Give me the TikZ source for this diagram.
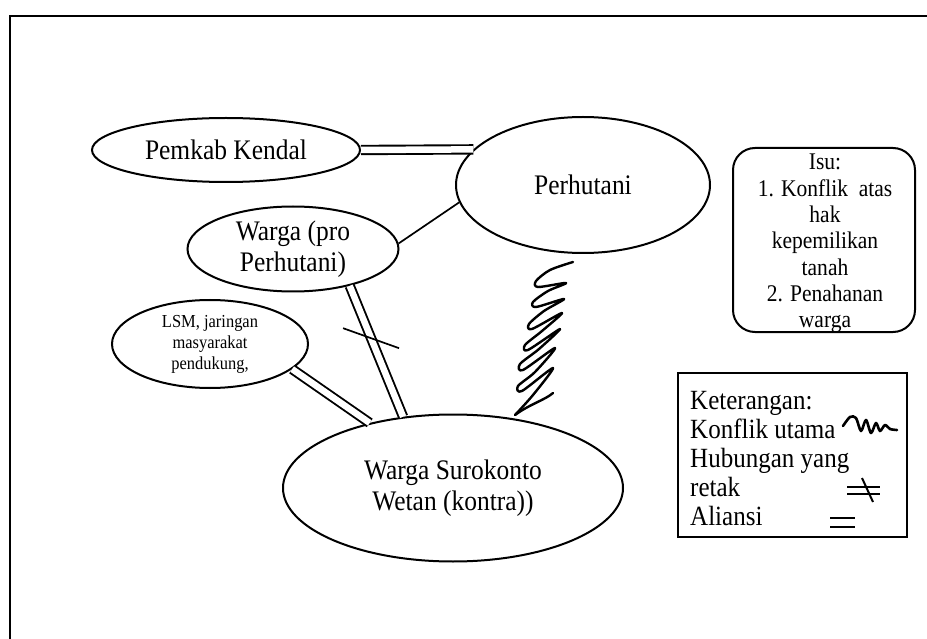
\documentclass[tikz,border=0pt]{standalone}
\usepackage{fontspec}
\setmainfont{Liberation Serif}[FakeStretch=0.9]
\usetikzlibrary{shapes.geometric,calc}
\begin{document}
\begin{tikzpicture}[x=1pt,y=-1pt,
  actor/.style={draw, ellipse, line width=2pt, inner sep=0pt, align=center,
    font=\fontsize{28.3}{30.5}\selectfont},
  ally/.style={double, double distance=6.5pt, line width=1.9pt},
  plainlink/.style={line width=1.7pt},
  conflict/.style={line width=2.4pt, line join=round, line cap=round},
  boxframe/.style={draw, line width=2pt, inner sep=0pt},
  isutext/.style={anchor=base, inner sep=0pt, font=\fontsize{23.9}{26}\selectfont},
  legtext/.style={anchor=base west, inner sep=0pt, font=\fontsize{27.8}{30}\selectfont},
  symline/.style={line width=2pt}]
\useasboundingbox (0,0) rectangle (927,639);
% outer frame (clipped at right and bottom)
\draw[line width=2.2pt] (10,639) -- (10,16) -- (927,16);

% actors
\node[actor, minimum width=268pt, minimum height=64pt] (pemkab) at (226,150) {Pemkab Kendal};
\node[actor, minimum width=254pt, minimum height=136pt] (perhutani) at (583,185) {Perhutani};
\node[actor, minimum width=211pt, minimum height=85pt] (wargapro) at (293,249) {Warga (pro\\Perhutani)};
\node[actor, minimum width=196pt, minimum height=88pt, font=\fontsize{18.3}{21}\selectfont] (lsm) at (210,344) {LSM, jaringan\\masyarakat\\pendukung,};
\node[actor, minimum width=340pt, minimum height=147pt] (warga) at (453,488) {Warga Surokonto\\Wetan (kontra))};

% relations
\draw[ally] (pemkab.east) -- (perhutani.162);
\draw[plainlink] (wargapro.3) -- (perhutani.188);
\draw[ally] (wargapro.-33) -- coordinate[pos=0.4] (crack) (warga.125);
\draw[plainlink] ($(crack)+(-28,-10)$) -- ($(crack)+(28,10)$);
\draw[ally] (lsm.-17) -- (warga.142);

% main conflict scribble
\draw[conflict] plot[smooth, tension=0.5] coordinates {
  (573,262) (550,270) (536,281) (538,287) (566,283)
  (548,291) (533,302) (536,307) (564,299)
  (544,311) (529,324) (532,329) (562,313)
  (542,331) (525,345) (528,350) (560,329)
  (539,349) (520,364) (523,370) (555,348)
  (535,372) (518,386) (522,391) (553,368)
  (533,395) (515,415)};
\draw[conflict] (515,415) .. controls (530,404) and (545,400) .. (553,393);

% issue box
\node[boxframe, rounded corners=22pt, minimum width=182pt, minimum height=184pt] (isubox) at (824,240) {};
\foreach \t [count=\i] in {Isu:, 1. Konflik\ \ atas, hak, kepemilikan, tanah, 2. Penahanan, warga}
  \node[isutext] (isu\i) at (825,{170+26.3*(\i-1)}) {\t};

% legend
\node[boxframe, minimum width=229pt, minimum height=164pt] (legend) at (792.5,455) {};
\node[legtext] (leg1) at (690,409) {Keterangan:};
\node[legtext] (leg2) at (690,438) {Konflik utama};
\node[legtext] (leg3) at (690,467) {Hubungan yang};
\node[legtext] (leg4) at (690,496) {retak};
\node[legtext] (leg5) at (690,525) {Aliansi};
\draw[conflict, line width=2.6pt] plot[smooth, tension=0.5] coordinates {
  (843,426) (850,417) (856,418) (861,431) (866,420) (871,433) (876,423) (880,431) (885,425) (890,429) (897,430)};
\draw[symline] (847,487) -- (880,487);
\draw[symline] (847,494) -- (880,494);
\draw[symline] (862,478) -- (873,502);
\draw[symline] (830,518) -- (855,518);
\draw[symline] (830,527) -- (855,527);
\end{tikzpicture}
\end{document}
